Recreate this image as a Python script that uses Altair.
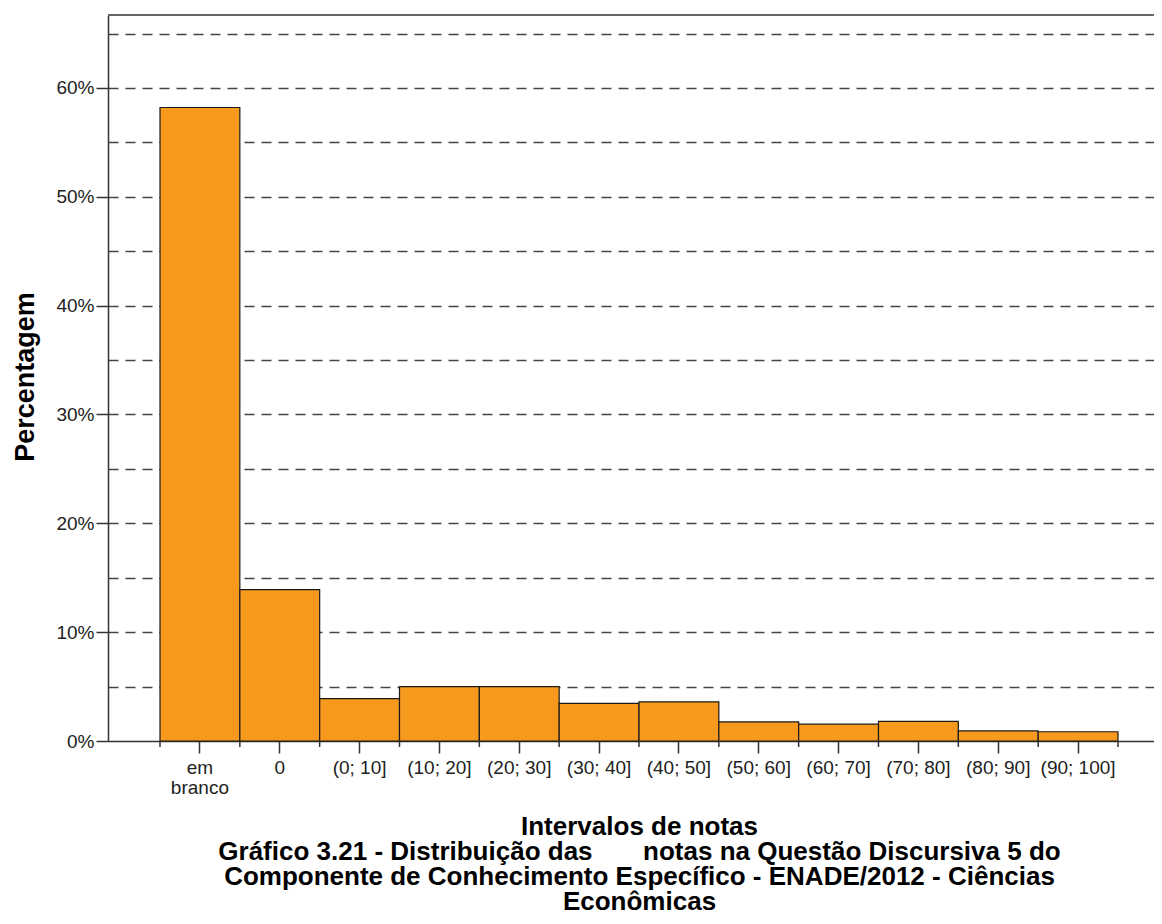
import altair as alt
import pandas as pd

categories = ["em branco", "0", "(0; 10]", "(10; 20]", "(20; 30]", "(30; 40]",
              "(40; 50]", "(50; 60]", "(60; 70]", "(70; 80]", "(80; 90]", "(90; 100]"]
percentages = [58.2, 13.9, 3.9, 5.0, 5.0, 3.45, 3.6, 1.75, 1.55, 1.8, 0.93, 0.85]
grid_levels = [0, 5, 10, 15, 20, 25, 30, 35, 40, 45, 50, 55, 60, 65]

x_title = [
    "Intervalos de notas",
    "Gráfico 3.21 - Distribuição das" + "\u00a0" * 7 + "notas na Questão Discursiva 5 do",
    "Componente de Conhecimento Específico - ENADE/2012 - Ciências",
    "Econômicas",
]

df = pd.DataFrame({"intervalo": categories, "pct": percentages})
border_df = pd.DataFrame({"k": [0]})

FONT = "Liberation Sans"
PLOT_W = 1046
PLOT_H = 726
yscale = alt.Scale(domain=[0, 66.7], nice=False, zero=True)
xscale = alt.Scale(paddingInner=0, paddingOuter=0.5512, align=0.5909, round=False)

x_axis = alt.Axis(
    title=x_title,
    grid=False,
    labelAngle=0,
    labelExpr="datum.value == 'em branco' ? ['em', 'branco'] : datum.value",
    labelFontSize=19,
    labelLineHeight=20,
    labelColor="#222222",
    labelPadding=5,
    tickSize=12,
    tickColor="#333333",
    tickWidth=1.5,
    domainColor="#333333",
    domainWidth=1.5,
    titleFontSize=26,
    titleFontWeight="bold",
    titleColor="#000000",
    titleLineHeight=25,
    titleBaseline="top",
    titleAlign="center",
    titleX=531,
    titleY=72.9,
)

y_axis = alt.Axis(
    values=grid_levels,
    labelExpr="datum.value % 10 === 0 ? datum.value + '%' : ''",
    title="Percentagem",
    grid=True,
    gridDash=[10, 7],
    gridColor="#444444",
    gridWidth=1.5,
    gridOpacity={"condition": {"test": "datum.value === 0", "value": 0}, "value": 1},
    tickOpacity={"condition": {"test": "datum.value % 10 === 0", "value": 1}, "value": 0},
    labelFontSize=19,
    labelColor="#222222",
    labelPadding=2,
    tickSize=12,
    tickColor="#333333",
    tickWidth=1.5,
    domainColor="#333333",
    domainWidth=1.5,
    titleFontSize=27,
    titleFontWeight="bold",
    titleColor="#000000",
    titleAngle=270,
    titleBaseline="alphabetic",
    titleAlign="center",
    titleX=-75,
    titleY=361.5,
)

bars = alt.Chart(df).mark_bar(color="#F7991D", stroke="#1a1a1a", strokeWidth=1.2).encode(
    x=alt.X("intervalo:N", sort=categories, scale=xscale, axis=x_axis),
    y=alt.Y("pct:Q", scale=yscale, axis=y_axis),
)

edge_ticks = alt.Chart(df).mark_rule(color="#333333", strokeWidth=1.5).encode(
    x=alt.X("intervalo:N", sort=categories, scale=xscale, axis=x_axis, bandPosition=0),
    y=alt.value(PLOT_H),
    y2=alt.value(PLOT_H + 6),
)

last_edge_tick = alt.Chart(df).mark_rule(color="#333333", strokeWidth=1.5).encode(
    x=alt.X("intervalo:N", sort=categories, scale=xscale, axis=x_axis, bandPosition=1),
    y=alt.value(PLOT_H),
    y2=alt.value(PLOT_H + 6),
).transform_filter(alt.datum.intervalo == categories[-1])

border = alt.Chart(border_df).mark_rule(color="#666666", strokeWidth=2).encode(
    x=alt.value(0), x2=alt.value(PLOT_W), y=alt.value(0)
)

chart = alt.layer(bars, edge_ticks, last_edge_tick, border).properties(
    width=PLOT_W,
    height=PLOT_H,
    autosize="none",
    padding={"left": 100, "top": 7, "right": 0, "bottom": 175},
).configure_view(stroke=None).configure_axis(
    labelFont=FONT, titleFont=FONT
)

chart.save("out.html", embed_options={"renderer": "svg", "actions": False})
